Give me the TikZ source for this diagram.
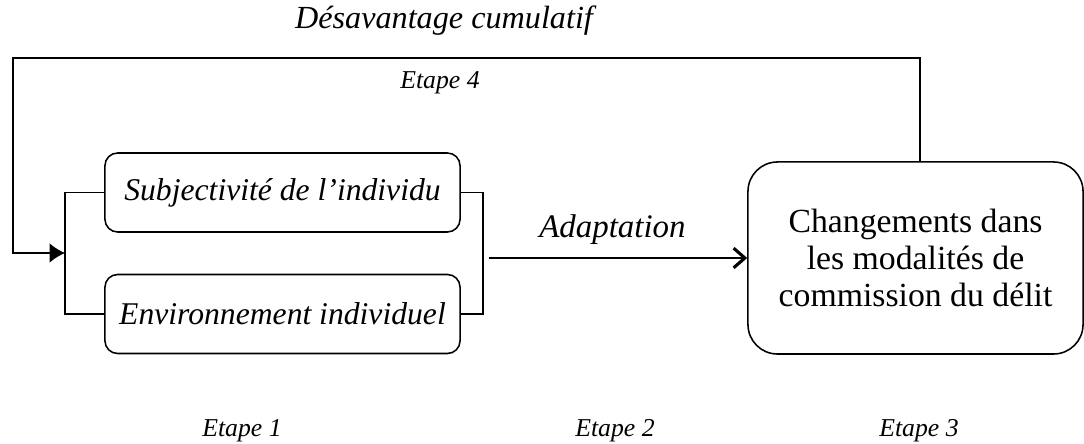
\documentclass[tikz,border=0pt]{standalone}
\usepackage{fontspec}
\setmainfont{Liberation Serif}
\usetikzlibrary{arrows.meta}

\tikzset{
    factor/.style = {draw, rounded corners = 9pt, minimum width = 8.875cm, minimum height = 1.975cm, font = \itshape\fontsize{22.5}{26}\selectfont},
    etape/.style = {font = \itshape\fontsize{18.3}{22}\selectfont},
}

\begin{document}
\begin{tikzpicture}[x = 0.025cm, y = -0.025cm, line width = 1.1pt]
    \useasboundingbox (0,0) rectangle (1084,444);
    \node [factor] (s) at (282.5,192.5) {Subjectivité de l’individu};
    \node [factor] (e) at (282.5,314) {Environnement individuel};
    \node [draw, rounded corners = 21pt, minimum width = 8.375cm, minimum height = 4.8cm, align = center, font = \fontsize{24}{26.3}\selectfont] (c) at (915.5,258) {Changements dans\\les modalités de\\commission du délit};
    \coordinate (jl) at (65,253);
    \coordinate (jr) at (483,258);
    \coordinate (lp) at (13,58);
    \coordinate (ct) at (920,162);
    \node [font = \itshape\fontsize{22.9}{27}\selectfont] (D) at (444,21) {Désavantage cumulatif};
    \node [etape] (E4) at (440,83) {Etape 4};
    \node [etape] (E1) at (242,431) {Etape 1};
    \node [etape] (E2) at (615,431) {Etape 2};
    \node [etape] (E3) at (919,431) {Etape 3};

    \draw (s.west) -| (jl) |- (e.west);
    \draw (s.east) -| (jr) |- (e.east);
    \draw [-{Latex[length = 11pt, width = 14pt]}] (ct) |- (lp) |- (jl);
    \draw [-{Straight Barb[length = 8pt, width = 14pt, line width = 2.2pt]}, shorten < = 4pt] (jr) -- (c.west) node [pos = 0.49, above = 6pt, font = \itshape\fontsize{23.4}{27}\selectfont] (A) {Adaptation};
\end{tikzpicture}
\end{document}
